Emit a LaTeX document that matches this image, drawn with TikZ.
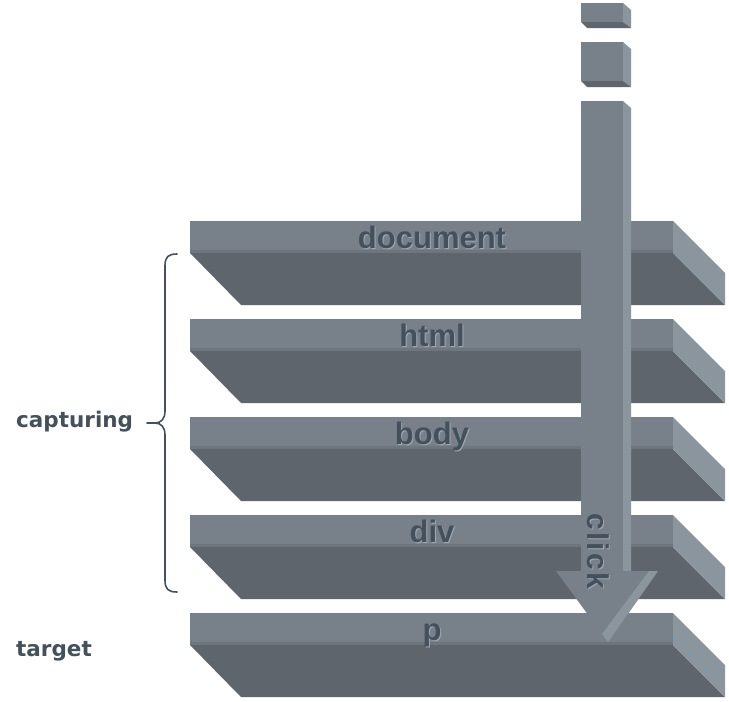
\documentclass[tikz,border=0pt]{standalone}
\usepackage{fontspec}
\setmainfont{Liberation Sans}
\newfontfamily\dejav{DejaVu Sans}
\definecolor{front}{HTML}{78818A}
\definecolor{under}{HTML}{5E656D}
\definecolor{side}{HTML}{8A959E}
\definecolor{bevel}{HTML}{6D757E}
\definecolor{ink}{HTML}{44505C}
\definecolor{shade}{HTML}{A0A9B1}
\tikzset{
  lbl/.style={inner sep=0pt, anchor=base, font=\fontsize{31}{36}\selectfont\bfseries},
  lblsh/.style={lbl, text=shade},
  lbltx/.style={lbl, text=ink},
  sidelbl/.style={inner sep=0pt, anchor=base west, text=ink, font=\dejav\fontsize{21.5}{26}\selectfont\bfseries},
  bracepath/.style={draw=ink, line width=1.6pt, line cap=round, line join=round}
}
\begin{document}
\begin{tikzpicture}[x=1pt,y=-1pt]
\useasboundingbox (0,0) rectangle (729,702);
\fill[white] (0,0) rectangle (729,702);
% layers
\foreach \t/\n/\lab in {221/doc/document,319/html/html,417/body/body,515/div/div,613/p/p}{
  \fill[under] (190,\t+32) -- (673,\t+32) -- (725,\t+84) -- (241,\t+84) -- cycle;
  \fill[side] (673,\t) -- (725,\t+52) -- (725,\t+84) -- (673,\t+32) -- cycle;
  \fill[front] (190,\t) rectangle (673,\t+32);
  \fill[bevel] (190,\t+29) rectangle (673,\t+32);
  \node[lblsh] (\n-shadow) at (433,\t+28) {\lab};
  \node[lbltx] (\n) at (432,\t+27) {\lab};
}
% top blocks
\foreach \t/\b/\n in {3/28/blockA,42/87/blockB}{
  \fill[front] (581,\t) -- (623,\t) -- (623,\b-6) -- (581,\b-6) -- cycle;
  \fill[side] (623,\t) -- (631,\t+7) -- (631,\b) -- (623,\b-6) -- cycle;
  \fill[under] (581,\b-6) -- (623,\b-6) -- (631,\b) -- (587,\b) -- cycle;
  \coordinate (\n) at (606,\t);
}
% arrow
\fill[front] (581,101) -- (623,101) -- (623,572) -- (581,572) -- cycle;
\fill[side] (623,101) -- (631,108) -- (631,572) -- (623,572) -- cycle;
\fill[front] (556,571) -- (658,571) -- (608,642) -- cycle;
\fill[side] (649,571) -- (658,571) -- (608,642) -- (602,634) -- cycle;
\node[lbl, text=shade, rotate=-90, anchor=base west, font=\fontsize{30}{36}\selectfont\bfseries\addfontfeature{LetterSpace=8}] (click-shadow) at (588,514) {click};
\node[lbl, text=ink, rotate=-90, anchor=base west, font=\fontsize{30}{36}\selectfont\bfseries\addfontfeature{LetterSpace=8}] (click) at (587,513) {click};
% side labels
\node[sidelbl] (capturing) at (16,427) {capturing};
\node[sidelbl] (target) at (16,656) {target};
% brace
\draw[bracepath] (177,254) .. controls (168,254) and (165,257) .. (165,266) -- (165,411)
  .. controls (165,419) and (161,423) .. (155,423) -- (147,423)
  (155,423) .. controls (161,423) and (165,427) .. (165,435) -- (165,580)
  .. controls (165,589) and (168,592) .. (177,592);
\end{tikzpicture}
\end{document}
